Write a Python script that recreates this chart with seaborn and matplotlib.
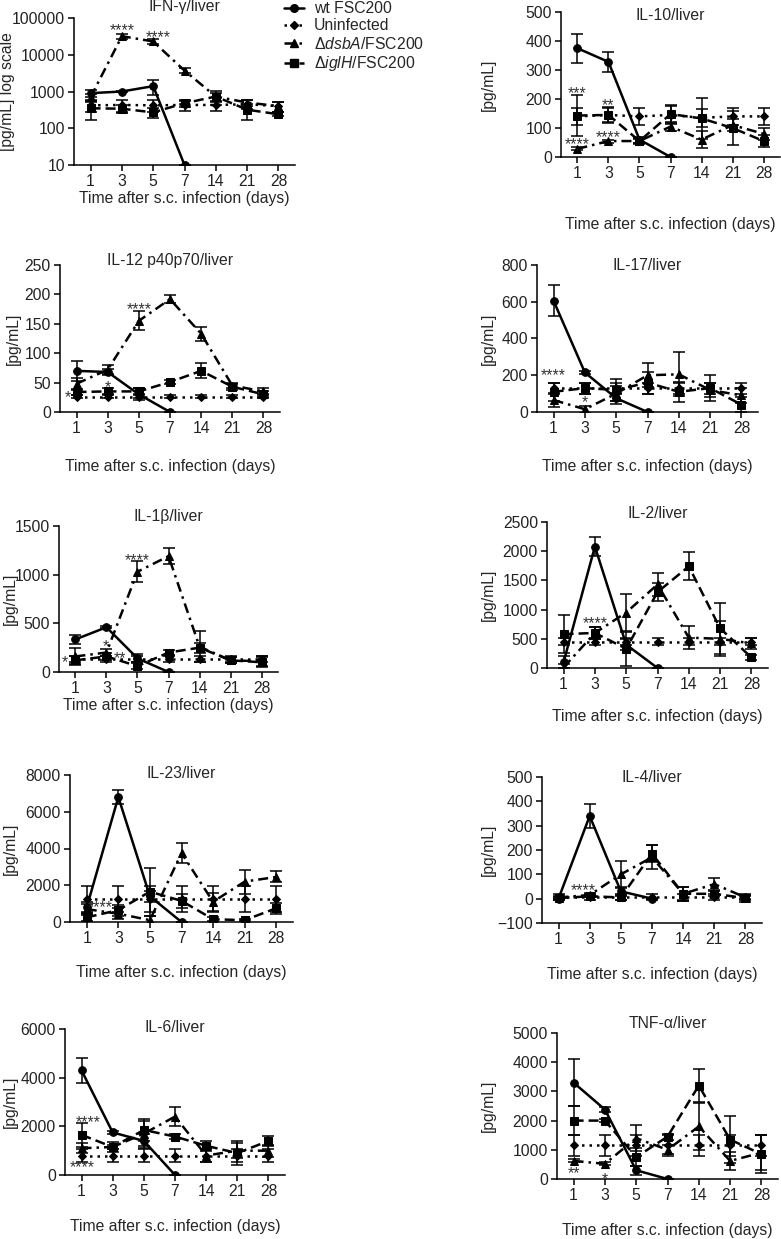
import numpy as np
import pandas as pd
import matplotlib.pyplot as plt
import seaborn as sns
from matplotlib.lines import Line2D

sns.set_theme(style='ticks')
plt.rcParams['font.family'] = ['Liberation Sans', 'DejaVu Sans']
plt.rcParams['mathtext.fontset'] = 'custom'
plt.rcParams['mathtext.rm'] = 'Liberation Sans'
plt.rcParams['mathtext.it'] = 'Liberation Sans:italic'

N = np.nan
DAYS = ['1', '3', '5', '7', '14', '21', '28']
GROUPS = ['wt FSC200', 'Uninfected', r'Δ$\it{dsbA}$/FSC200', r'Δ$\it{iglH}$/FSC200']

# ---- data (mean, error) per cytokine; order: wt, uninfected, dsbA, iglH ----
IFNG_WT = [900, 1000, 1400, 10, N, N, N]
IFNG_UN = [420, 430, 420, 430, 430, 450, 400]
IFNG_DSBA = [700, 32000, 23000, 3700, 730, 500, 400]
IFNG_IGLH = [350, 340, 270, 480, 730, 320, 240]
IFNG_WT_E = [200, 60, 600, 0, N, N, N]
IFNG_UN_E = [150, 150, 150, 130, 130, 120, 130]
IFNG_DSBA_E = [150, 5000, 3000, 600, 200, 100, 120]
IFNG_IGLH_E = [180, 80, 80, 100, 300, 150, 30]

IL10_WT = [375, 328, 60, 0, N, N, N]
IL10_UN = [140, 145, 140, 145, 135, 140, 140]
IL10_DSBA = [28, 55, 55, 105, 60, 110, 80]
IL10_IGLH = [143, 145, 55, 148, 133, 100, 55]
IL10_WT_E = [50, 35, 10, 0, N, N, N]
IL10_UN_E = [28, 28, 30, 30, 30, 30, 30]
IL10_DSBA_E = [5, 5, 8, 15, 30, 20, 20]
IL10_IGLH_E = [72, 25, 10, 30, 70, 58, 20]

IL12_WT = [70, 68, 30, 0, N, N, N]
IL12_UN = [26, 26, 26, 26, 26, 26, 26]
IL12_DSBA = [48, 72, 155, 192, 133, 45, 35]
IL12_IGLH = [34, 35, 35, 51, 70, 43, 30]
IL12_WT_E = [17, 5, 10, 0, N, N, N]
IL12_UN_E = [3, 3, 3, 3, 3, 3, 3]
IL12_DSBA_E = [10, 8, 16, 7, 12, 5, 5]
IL12_IGLH_E = [5, 5, 5, 4, 13, 5, 5]

IL17_WT = [605, 215, 75, 0, N, N, N]
IL17_UN = [130, 130, 130, 130, 130, 130, 130]
IL17_DSBA = [65, 15, 100, 200, 205, 120, 90]
IL17_IGLH = [110, 130, 120, 160, 110, 130, 40]
IL17_WT_E = [85, 10, 30, 0, N, N, N]
IL17_UN_E = [30, 30, 30, 30, 30, 30, 30]
IL17_DSBA_E = [40, 20, 40, 65, 120, 40, 40]
IL17_IGLH_E = [50, 30, 60, 60, 55, 70, 40]

IL1B_WT = [335, 460, 140, 0, N, N, N]
IL1B_UN = [130, 130, 130, 130, 130, 130, 130]
IL1B_DSBA = [160, 200, 1030, 1190, 260, 120, 110]
IL1B_IGLH = [120, 160, 60, 200, 250, 120, 100]
IL1B_WT_E = [50, 10, 40, 0, N, N, N]
IL1B_UN_E = [30, 30, 30, 30, 30, 30, 30]
IL1B_DSBA_E = [90, 40, 110, 80, 160, 30, 50]
IL1B_IGLH_E = [40, 40, 30, 30, 50, 30, 50]

IL2_WT = [100, 2080, 400, 0, N, N, N]
IL2_UN = [450, 450, 450, 450, 450, 450, 450]
IL2_DSBA = [10, 600, 950, 1430, 520, 500, 420]
IL2_IGLH = [580, 600, 330, 1300, 1740, 680, 180]
IL2_WT_E = [100, 170, 100, 0, N, N, N]
IL2_UN_E = [60, 60, 60, 60, 60, 60, 60]
IL2_DSBA_E = [50, 100, 320, 200, 200, 300, 90]
IL2_IGLH_E = [320, 100, 290, 150, 240, 440, 50]

IL23_WT = [800, 6800, 1400, 0, N, N, N]
IL23_UN = [1250, 1250, 1250, 1250, 1250, 1250, 1250]
IL23_DSBA = [700, 450, 100, 3750, 1100, 2200, 2450]
IL23_IGLH = [250, 650, 1650, 1150, 150, 100, 750]
IL23_WT_E = [300, 400, 300, 0, N, N, N]
IL23_UN_E = [700, 700, 700, 700, 700, 700, 700]
IL23_DSBA_E = [300, 300, 200, 550, 500, 650, 300]
IL23_IGLH_E = [200, 300, 1300, 400, 100, 50, 300]

IL4_WT = [0, 340, 30, 0, N, N, N]
IL4_UN = [8, 8, 8, 8, 8, 8, 8]
IL4_DSBA = [5, 15, 100, 170, 20, 60, 5]
IL4_IGLH = [2, 10, 5, 185, 20, 20, 2]
IL4_WT_E = [5, 50, 20, 0, N, N, N]
IL4_UN_E = [12, 12, 12, 12, 12, 12, 12]
IL4_DSBA_E = [5, 10, 55, 50, 30, 25, 5]
IL4_IGLH_E = [5, 5, 10, 35, 30, 10, 15]

IL6_WT = [4300, 1750, 1400, 0, N, N, N]
IL6_UN = [800, 800, 800, 800, 800, 800, 800]
IL6_DSBA = [1100, 1150, 1700, 2400, 800, 1000, 1000]
IL6_IGLH = [1650, 1150, 1850, 1580, 1200, 900, 1400]
IL6_WT_E = [500, 50, 300, 0, N, N, N]
IL6_UN_E = [250, 250, 250, 250, 250, 250, 250]
IL6_DSBA_E = [200, 200, 500, 400, 250, 300, 250]
IL6_IGLH_E = [500, 100, 450, 100, 200, 500, 200]

TNF_WT = [3300, 2380, 300, 0, N, N, N]
TNF_UN = [1150, 1150, 1150, 1150, 1150, 1150, 1150]
TNF_DSBA = [620, 520, 1400, 1000, 1800, 620, 900]
TNF_IGLH = [2000, 2000, 750, 1450, 3200, 1350, 850]
TNF_WT_E = [800, 100, 150, 0, N, N, N]
TNF_UN_E = [350, 350, 350, 350, 350, 350, 350]
TNF_DSBA_E = [50, 50, 450, 150, 800, 300, 600]
TNF_IGLH_E = [500, 50, 300, 100, 570, 800, 650]

# ---- layout ----
W, H = 781, 1239
STYLES = [
    dict(marker='o', ls='-', ms=5.5),
    dict(marker='D', ls=(0, (1, 2)), ms=3.8),
    dict(marker='^', ls=(0, (4, 2, 1, 2)), ms=5.5),
    dict(marker='s', ls=(0, (4, 2)), ms=5.5),
]


def px(x, y):
    return x / W, 1 - y / H


panels = [
    # title, means, errs, axes box (l,t,r,b px), yticks, ylim, title y, ylabel x, xlabel y, stars
    ('IFN-γ/liver', [IFNG_WT, IFNG_UN, IFNG_DSBA, IFNG_IGLH],
     [IFNG_WT_E, IFNG_UN_E, IFNG_DSBA_E, IFNG_IGLH_E],
     (74, 18, 295, 165), [10, 100, 1000, 10000, 100000], (10, 100000), 6, 8, 199,
     [(1, 73000, '****'), (2.15, 48000, '****')]),
    ('IL-10/liver', [IL10_WT, IL10_UN, IL10_DSBA, IL10_IGLH],
     [IL10_WT_E, IL10_UN_E, IL10_DSBA_E, IL10_IGLH_E],
     (561, 12, 780, 157), np.arange(0, 501, 100), (0, 500), 15, 488, 225,
     [(0, 245, '***'), (1, 203, '**'), (0, 68, '****'), (1, 91, '****')]),
    ('IL-12 p40p70/liver', [IL12_WT, IL12_UN, IL12_DSBA, IL12_IGLH],
     [IL12_WT_E, IL12_UN_E, IL12_DSBA_E, IL12_IGLH_E],
     (60, 265, 280, 412), np.arange(0, 251, 50), (0, 250), 261, 13, 467,
     [(-0.27, 37, '*'), (1, 55, '*'), (2, 187, '****')]),
    ('IL-17/liver', [IL17_WT, IL17_UN, IL17_DSBA, IL17_IGLH],
     [IL17_WT_E, IL17_UN_E, IL17_DSBA_E, IL17_IGLH_E],
     (537, 265, 758, 412), np.arange(0, 801, 200), (0, 800), 266, 488, 467,
     [(0, 236, '****'), (1, 91, '*')]),
    ('IL-1β/liver', [IL1B_WT, IL1B_UN, IL1B_DSBA, IL1B_IGLH],
     [IL1B_WT_E, IL1B_UN_E, IL1B_DSBA_E, IL1B_IGLH_E],
     (59, 526, 278, 672), np.arange(0, 1501, 500), (0, 1500), 517, 10, 705,
     [(-0.35, 178, '*'), (0.97, 342, '*'), (1.45, 219, '**'), (2, 1220, '****')]),
    ('IL-2/liver', [IL2_WT, IL2_UN, IL2_DSBA, IL2_IGLH],
     [IL2_WT_E, IL2_UN_E, IL2_DSBA_E, IL2_IGLH_E],
     (547, 522, 768, 668), np.arange(0, 2501, 500), (0, 2500), 514, 488, 716,
     [(1, 892, '****')]),
    ('IL-23/liver', [IL23_WT, IL23_UN, IL23_DSBA, IL23_IGLH],
     [IL23_WT_E, IL23_UN_E, IL23_DSBA_E, IL23_IGLH_E],
     (70, 775, 293, 922), np.arange(0, 8001, 2000), (0, 8000), 773, 10, 973,
     [(0.43, 1180, '****')]),
    ('IL-4/liver', [IL4_WT, IL4_UN, IL4_DSBA, IL4_IGLH],
     [IL4_WT_E, IL4_UN_E, IL4_DSBA_E, IL4_IGLH_E],
     (542, 777, 762, 923), np.arange(-100, 501, 100), (-100, 500), 778, 488, 974,
     [(0.78, 62, '****')]),
    ('IL-6/liver', [IL6_WT, IL6_UN, IL6_DSBA, IL6_IGLH],
     [IL6_WT_E, IL6_UN_E, IL6_DSBA_E, IL6_IGLH_E],
     (65, 1029, 285, 1175), np.arange(0, 6001, 2000), (0, 6000), 1028, 10, 1226,
     [(0.2, 2470, '****'), (0.02, 620, '****')]),
    ('TNF-α/liver', [TNF_WT, TNF_UN, TNF_DSBA, TNF_IGLH],
     [TNF_WT_E, TNF_UN_E, TNF_DSBA_E, TNF_IGLH_E],
     (557, 1033, 778, 1179), np.arange(0, 5001, 1000), (0, 5000), 1023, 488, 1230,
     [(0, 444, '**'), (1, 250, '*')]),
]

fig = plt.figure(figsize=(W / 100, H / 100), dpi=100)
FS = 11.3

for i, (title, means, errs, box, yt, ylim, ty, ylx, xly, stars) in enumerate(panels):
    l, t, r, b = box
    ax = fig.add_axes([l / W, 1 - b / H, (r - l) / W, (b - t) / H])
    for name, y, e, st in zip(GROUPS, means, errs, STYLES):
        df = pd.DataFrame({'x': np.arange(7), 'y': y, 'e': e}).dropna()
        ax.errorbar(df['x'], df['y'], yerr=df['e'], fmt='none', ecolor='black',
                    elinewidth=1.1, capsize=4, capthick=1.1, zorder=2)
        sns.lineplot(data=df, x='x', y='y', ax=ax, color='black', lw=1.8,
                     marker=st['marker'], markersize=st['ms'], mec='black',
                     linestyle=st['ls'], legend=False, zorder=3)
    if i == 0:
        ax.set_yscale('log')
        ax.set_yticks(yt)
        ax.set_yticklabels([str(v) for v in yt])
        ax.minorticks_off()
    else:
        ax.set_yticks(yt)
    ax.set_ylim(*ylim)
    ax.set_xlim(-0.53, 6.53)
    ax.set_xticks(range(7))
    ax.set_xticklabels(DAYS)
    ax.set_xlabel('')
    ax.set_ylabel('')
    for s in ['top', 'right']:
        ax.spines[s].set_visible(False)
    for s in ['left', 'bottom']:
        ax.spines[s].set_linewidth(1.1)
        ax.spines[s].set_color('black')
    ax.tick_params(direction='out', length=4, width=1.1, labelsize=FS,
                   colors='black', labelcolor='#222222', pad=2.5)
    for sx, sy, txt in stars:
        ax.text(sx, sy, txt, ha='center', va='top', fontsize=FS, color='#333333')

    cx = (l + r) / 2
    fx, fy = px(cx, ty)
    fig.text(fx, fy, title, ha='center', va='center', fontsize=FS)
    fx, fy = px(ylx, (t + b) / 2)
    ylab = '[pg/mL] log scale' if i == 0 else '[pg/mL]'
    fig.text(fx, fy, ylab, ha='center', va='center', rotation=90, fontsize=FS)
    fx, fy = px(cx, xly)
    fig.text(fx, fy, 'Time after s.c. infection (days)', ha='center', va='center',
             fontsize=FS)

handles = [Line2D([], [], color='black', lw=1.8, marker=st['marker'],
                  markersize=st['ms'], linestyle=st['ls']) for st in STYLES]
lx, ly = px(284, 1)
fig.legend(handles, GROUPS, loc='upper left', bbox_to_anchor=(lx, ly), frameon=False,
           fontsize=FS, handlelength=1.3, handletextpad=0.6, labelspacing=0.15,
           borderaxespad=0, borderpad=0)

fig.savefig('out.png', dpi=100)
